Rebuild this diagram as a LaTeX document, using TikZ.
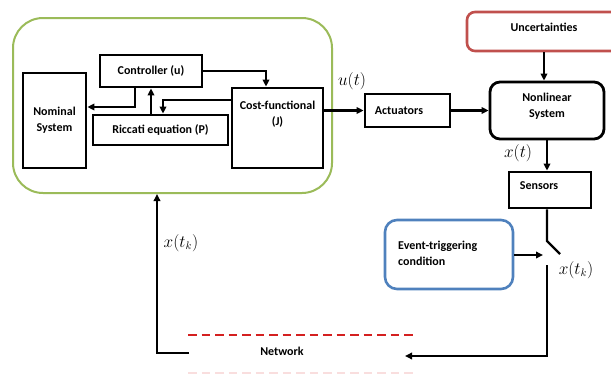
\documentclass[tikz,border=0pt]{standalone}
\usepackage{fontspec}
\setmainfont{Carlito}
\usetikzlibrary{arrows.meta}
\definecolor{grn}{HTML}{9BBB59}
\definecolor{rd}{HTML}{C0504D}
\definecolor{bl}{HTML}{4F81BD}
\definecolor{dashred}{HTML}{D42020}
\begin{document}
\begin{tikzpicture}[x=1pt,y=-1pt,
  box/.style={draw, line width=2.8pt, inner sep=0pt, align=center,
    font=\bfseries\fontsize{12}{16}\selectfont},
  txt/.style={inner sep=0pt, align=center, font=\bfseries\fontsize{12}{16}\selectfont},
  arr/.style={line width=2.2pt, -{Triangle[length=7pt,width=6.5pt]}},
  ln/.style={line width=2.2pt},
  mlab/.style={inner sep=0pt, font=\fontsize{16}{18}\selectfont},
  net/.style={line width=2pt, dash pattern=on 8.5pt off 5pt}]
\path[use as bounding box] (0,0) rectangle (611,375);
% green controller frame
\node[draw=grn, line width=2pt, rounded corners=30pt, minimum width=319pt, minimum height=175pt] (frame) at (172.5,105.5) {};
\node[box, minimum width=102pt, minimum height=32pt] (ctrl) at (151,71) {Controller (u)};
\node[box, minimum width=63pt, minimum height=95pt] (nom) at (54.5,120.5) {Nominal\\System};
\node[box, minimum width=135pt, minimum height=30pt] (ric) at (160.5,130) {Riccati equation (P)};
\node[box, minimum width=91pt, minimum height=80pt] (cost) at (277.5,128) {};
\node[txt] (costtxt) at (277.5,114.5) {Cost-functional\\(J)};
% plant side
\node[box, minimum width=85pt, minimum height=33pt] (act) at (407.5,110.5) {};
\node[txt] (acttxt) at (399,110.5) {Actuators};
\node[box, rounded corners=10pt, minimum width=114pt, minimum height=57pt] (nls) at (547,110.5) {};
\node[txt] (nlstxt) at (547,106) {Nonlinear\\System};
\node[draw=rd, line width=2.6pt, rounded corners=8pt, minimum width=154pt, minimum height=39pt] (unc) at (544,31.5) {};
\node[txt] (unctxt) at (544,27) {Uncertainties};
\node[box, minimum width=82pt, minimum height=36pt] (sens) at (550,190) {};
\node[txt] (senstxt) at (539,186) {Sensors};
\node[draw=bl, line width=2.6pt, rounded corners=12pt, minimum width=128pt, minimum height=69pt] (evt) at (449,254.5) {};
\node[txt, align=left, anchor=west] (evttxt) at (398,253.5) {Event-triggering\\condition};
\node[txt] (nettxt) at (282,351) {Network};
% coordinates
\coordinate (c1) at (266,71);
\coordinate (c2) at (135,107);
\coordinate (c3) at (163,100);
\coordinate (sw1) at (547,241);
\coordinate (sw2) at (560,254);
\coordinate (sw3) at (547,265);
\coordinate (sw4) at (547,356);
\coordinate (evtend) at (543,255);
\coordinate (netin) at (405,356);
\coordinate (netout) at (189,353);
\coordinate (fb) at (157,353);
% inner connectors
\draw[arr] (ctrl.east) -- (c1) -- (c1 |- cost.north);
\draw[arr] (ctrl.south -| c2) -- (c2) -- (c2 -| nom.east);
\draw[arr] (ric.north -| ctrl.south) -- (ctrl.south);
\draw[arr] (c3 -| cost.west) -- (c3) -- (c3 |- ric.north);
% forward path
\draw[arr] (cost.east |- act.west) -- (act.west);
\draw[arr] (act.east) -- (nls.west);
\draw[arr] (unc.south) -- (unc.south |- nls.north);
\draw[arr] (nls.south) -- (nls.south |- sens.north);
\draw[ln] (nls.south |- sens.south) -- (sw1) -- (sw2);
\draw[arr] (evt.east |- evtend) -- (evtend);
\draw[arr] (sw3) -- (sw4) -- (netin);
\draw[arr] (netout) -- (fb) -- (fb |- frame.south);
% network
\draw[net, draw=dashred] (188,335) -- (413,335);
\draw[net, draw=dashred!15] (188,373) -- (413,373);
% math labels
\node[mlab] (ut) at (352,81) {$u(t)$};
\node[mlab] (xt) at (518,153) {$x(t)$};
\node[mlab] (xtk1) at (576,270) {$x(t_k)$};
\node[mlab] (xtk2) at (181,243) {$x(t_k)$};
\end{tikzpicture}
\end{document}
